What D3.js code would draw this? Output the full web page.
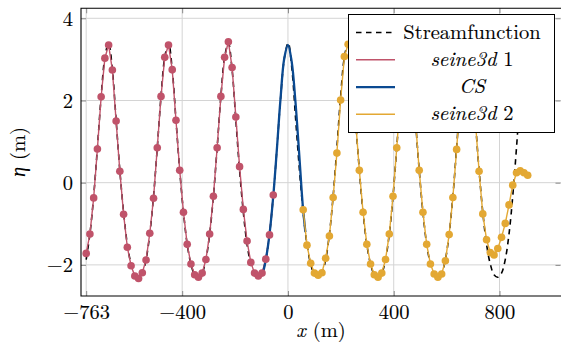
<!DOCTYPE html>
<html><head><meta charset="utf-8">
<script src="https://cdn.jsdelivr.net/npm/d3@7"></script>
<style>body{margin:0;background:#fff}svg{display:block}</style>
</head><body><svg id="c" width="561" height="360" font-family="Latin Modern Roman"></svg>
<script>
// ---- data ----
const gridX = [-763.0,-748.9,-734.7,-720.6,-706.4,-692.3,-678.1,-664.0,-649.8,-635.7,-621.5,-607.4,-593.2,-579.1,-564.9,-550.8,
 -536.6,-522.5,-508.3,-494.2,-480.0,-465.9,-451.7,-437.6,-423.4,-409.3,-395.1,-381.0,-366.8,-352.7,-338.5,-324.4,
 -310.2,-296.1,-281.9,-267.8,-253.6,-239.5,-225.3,-211.2,-197.0,-182.9,-168.7,-154.6,-140.4,-126.3,-112.1,-98.0,
 -83.8,-69.7,-55.5,-41.4,-27.2,-13.1,1.1,15.2,29.4,43.6,57.7,71.9,86.0,100.2,
 114.3,128.5,142.6,156.8,170.9,185.1,199.2,213.4,227.5,241.7,255.8,270.0,284.1,298.3,312.4,326.6,
 340.7,354.9,369.0,383.2,397.3,411.5,425.6,439.8,453.9,468.1,482.2,496.4,510.5,524.7,538.8,553.0,
 567.1,581.3,595.4,609.6,623.7,637.9,652.0,666.2,680.3,694.5,708.6,722.8,736.9,751.1,765.2,779.4,
 793.5,807.7,821.8,836.0,850.1,864.3,878.4,892.6,906.7];
const streamEta = [-1.87,-1.25,-0.33,0.85,2.10,3.05,3.40,2.75,1.52,0.30,-0.72,-1.50,-1.98,-2.24,-2.30,-2.20,
 -1.87,-1.25,-0.33,0.85,2.10,3.05,3.40,2.75,1.52,0.30,-0.72,-1.50,-1.98,-2.24,-2.30,-2.20,
 -1.87,-1.25,-0.33,0.85,2.10,3.05,3.40,2.75,1.52,0.30,-0.72,-1.50,-1.98,-2.24,-2.30,-2.20,
 -1.87,-1.25,-0.33,0.85,2.10,3.05,3.40,2.75,1.52,0.30,-0.72,-1.50,-1.98,-2.24,-2.30,-2.20,
 -1.87,-1.25,-0.33,0.85,2.10,3.05,3.40,2.75,1.52,0.30,-0.72,-1.50,-1.98,-2.24,-2.30,-2.20,
 -1.87,-1.25,-0.33,0.85,2.10,3.05,3.40,2.75,1.52,0.30,-0.72,-1.50,-1.98,-2.24,-2.30,-2.20,
 -1.87,-1.25,-0.33,0.85,2.10,3.05,3.40,2.75,1.52,0.30,-0.72,-1.50,-1.98,-2.24,-2.30,-2.20,
 -1.87,-1.25,-0.33,0.85,2.10,3.05,3.40];
const seine1Eta = [-1.72,-1.25,-0.37,0.82,2.09,3.03,3.35,2.74,1.50,0.28,-0.77,-1.57,-2.02,-2.27,-2.33,-2.19,
 -1.88,-1.23,-0.38,0.85,2.10,3.05,3.35,2.75,1.52,0.30,-0.72,-1.50,-1.98,-2.24,-2.30,-2.20,
 -1.87,-1.25,-0.33,0.85,2.10,3.05,3.43,2.80,1.60,0.39,-0.65,-1.42,-1.94,-2.20,-2.27,-2.20,
 -1.86,-1.27,-0.30];
const seine2Eta = [-0.66,-1.52,-1.96,-2.20,-2.25,-2.19,-1.84,-1.30,-0.36,0.72,2.01,3.07,3.37,2.75,1.52,0.30,
 -0.72,-1.50,-1.98,-2.24,-2.30,-2.20,-1.87,-1.25,-0.33,0.85,2.10,3.05,3.37,2.75,1.52,0.30,
 -0.72,-1.50,-1.98,-2.22,-2.30,-2.22,-1.90,-1.26,-0.36,0.81,2.10,3.05,3.37,2.75,1.52,0.28,
 -0.76,-1.39,-1.70,-1.76,-1.60,-1.33,-0.99,-0.54,-0.06,0.24,0.29,0.24,0.18];
const seine1Start = 0, seine2Start = 58;
const csX = [-105,-95,-84,-70,-56,-42,-28,-14,0,14,28,42,56,66];
const csEta = [-2.27,-2.18,-1.88,-1.27,-0.36,0.80,2.05,3.02,3.35,2.95,2.00,0.75,-0.55,-1.20];
const xTicks = [-763,-400,0,400,800];
const yTicks = [-2,0,2,4];
const legendLabels = ["Streamfunction","seine3d 1","CS","seine3d 2"];
const colors = {stream:"#000000", seine1:"#c0536a", cs:"#0b4a91", seine2:"#e3a833"};

// ---- layout ----
const FONT = "Latin Modern Roman";
const FS = 20.5;
const svg = d3.select("#c");
const L = 81, T = 8.3, R = 561, B = 296;
const x = d3.scaleLinear().domain([-782.6, 1032.6]).range([L, R]);
const y = d3.scaleLinear().domain([-2.757, 4.243]).range([B, T]);
const fmt = d => (d < 0 ? "\u2212" + Math.abs(d) : "" + d);
const styleText = s => s.attr("font-family",FONT).attr("font-size",FS).attr("fill","#000")
  .attr("stroke","#000").attr("stroke-width",0.12);

svg.append("defs").append("clipPath").attr("id","clip")
  .append("rect").attr("x",L).attr("y",T).attr("width",R-L).attr("height",B-T);

// grid
const grid = svg.append("g").attr("stroke","#d4d4d4").attr("stroke-width",1);
xTicks.forEach(t => grid.append("line").attr("x1",x(t)).attr("x2",x(t)).attr("y1",T).attr("y2",B));
yTicks.forEach(t => grid.append("line").attr("y1",y(t)).attr("y2",y(t)).attr("x1",L).attr("x2",R));

// axes via d3
const axB = svg.append("g").attr("transform",`translate(0,${B})`)
  .call(d3.axisBottom(x).tickValues(xTicks).tickFormat(fmt).tickSizeInner(-5).tickSizeOuter(0).tickPadding(12));
const axT = svg.append("g").attr("transform",`translate(0,${T})`)
  .call(d3.axisTop(x).tickValues(xTicks).tickFormat("").tickSizeInner(-5).tickSizeOuter(0));
const axL = svg.append("g").attr("transform",`translate(${L},0)`)
  .call(d3.axisLeft(y).tickValues(yTicks).tickFormat(fmt).tickSizeInner(-5).tickSizeOuter(0).tickPadding(8));
const axR = svg.append("g").attr("transform",`translate(${R-0.5},0)`)
  .call(d3.axisRight(y).tickValues(yTicks).tickFormat("").tickSizeInner(-5).tickSizeOuter(0));
[axB,axT,axL,axR].forEach(a => {
  a.attr("font-family", FONT);
  a.select(".domain").remove();
  a.selectAll(".tick line").attr("stroke","#8a8a8a");
  a.selectAll(".tick text").call(styleText);
});
axL.selectAll(".tick text").attr("dy","0.33em");
axB.selectAll(".tick text").attr("y",22.5).attr("dy","0");

// series
const plot = svg.append("g").attr("clip-path","url(#clip)");
const streamPts = gridX.map((v,i)=>[v, streamEta[i]]);
const s1Pts = seine1Eta.map((v,i)=>[gridX[seine1Start+i], v]);
const s2Pts = seine2Eta.map((v,i)=>[gridX[seine2Start+i], v]);
const csPts = csX.map((v,i)=>[v, csEta[i]]);
const lineLin = d3.line().x(d=>x(d[0])).y(d=>y(d[1]));
const lineSmooth = d3.line().x(d=>x(d[0])).y(d=>y(d[1])).curve(d3.curveCatmullRom.alpha(0.5));

plot.append("path").attr("d",lineSmooth(streamPts)).attr("fill","none")
  .attr("stroke",colors.stream).attr("stroke-width",1.6).attr("stroke-dasharray","5.5,4.5");
plot.append("path").attr("d",lineLin(s1Pts)).attr("fill","none").attr("stroke",colors.seine1).attr("stroke-width",1.4);
plot.append("path").attr("d",lineSmooth(csPts)).attr("fill","none").attr("stroke",colors.cs).attr("stroke-width",2.3);
plot.append("path").attr("d",lineLin(s2Pts)).attr("fill","none").attr("stroke",colors.seine2).attr("stroke-width",1.4);
plot.append("g").selectAll("circle").data(s1Pts).join("circle")
  .attr("cx",d=>x(d[0])).attr("cy",d=>y(d[1])).attr("r",3.8).attr("fill",colors.seine1);
plot.append("g").selectAll("circle").data(s2Pts).join("circle")
  .attr("cx",d=>x(d[0])).attr("cy",d=>y(d[1])).attr("r",3.8).attr("fill",colors.seine2);

// frame
svg.append("path").attr("d",`M${R+1},${T}H${L}V${B}H${R+1}`).attr("fill","none").attr("stroke","#000").attr("stroke-width",1.1);

// legend
const lg = svg.append("g");
lg.append("rect").attr("x",348.5).attr("y",14.5).attr("width",206).attr("height",118)
  .attr("fill","#fff").attr("stroke","#000").attr("stroke-width",1);
const rowY = [32.5, 59.8, 87.1, 114.3];
const lstyles = [
  {c:colors.stream, w:1.6, dash:"5.5,4.5"},
  {c:colors.seine1, w:1.4, dash:null},
  {c:colors.cs, w:2.3, dash:null},
  {c:colors.seine2, w:1.4, dash:null}];
legendLabels.forEach((lab,i)=>{
  const l = lg.append("line").attr("x1",356).attr("x2",395).attr("y1",rowY[i]).attr("y2",rowY[i])
    .attr("stroke",lstyles[i].c).attr("stroke-width",lstyles[i].w);
  if (lstyles[i].dash) l.attr("stroke-dasharray",lstyles[i].dash);
  const t = lg.append("text").attr("x",472).attr("y",rowY[i]+6).attr("text-anchor","middle").call(styleText);
  const m = lab.match(/^(seine3d)( \d)$/);
  if (m) { t.append("tspan").attr("font-style","italic").text(m[1]); t.append("tspan").text(m[2]); }
  else if (lab === "CS") t.append("tspan").attr("font-style","italic").text(lab);
  else t.text(lab);
});

// axis labels
const xl = svg.append("text").attr("x",321).attr("y",337).attr("text-anchor","middle").call(styleText);
xl.append("tspan").attr("font-style","italic").text("x");
xl.append("tspan").text(" (m)");
const yl = svg.append("text").attr("transform","translate(25,152) rotate(-90)").attr("text-anchor","middle").call(styleText);
yl.append("tspan").attr("font-style","italic").text("η");
yl.append("tspan").text(" (m)");
</script></body></html>
